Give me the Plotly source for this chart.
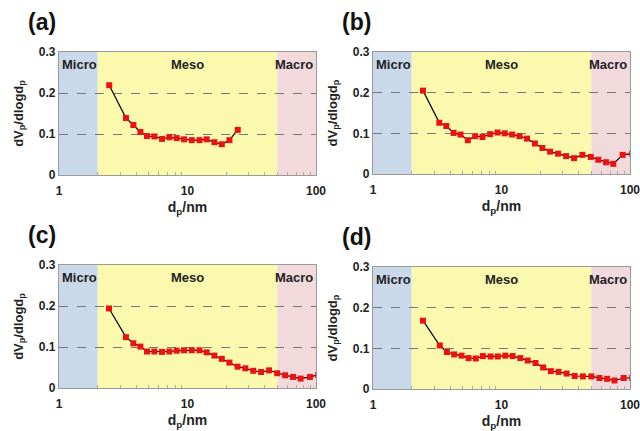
import plotly.graph_objects as go

# ---- data ----
dp_a = [2.46, 3.32, 3.79, 4.30, 4.84, 5.52, 6.33, 7.22, 8.24, 9.39, 10.8, 12.4, 14.1, 16.2, 18.5, 21.2, 24.6]
v_a = [0.219, 0.139, 0.122, 0.105, 0.095, 0.094, 0.088, 0.092, 0.090, 0.087, 0.085, 0.085, 0.087, 0.080, 0.075, 0.085, 0.110]

dp_b = [2.45, 3.28, 3.72, 4.24, 4.80, 5.47, 6.24, 7.11, 8.16, 9.31, 10.6, 12.1, 13.8, 15.8, 18.2, 20.8, 23.9,
        27.6, 31.8, 36.7, 42.6, 49.5, 56.7, 65.1, 74.1, 87.7, 104.0]
v_b = [0.205, 0.126, 0.118, 0.101, 0.097, 0.083, 0.093, 0.091, 0.098, 0.102, 0.100, 0.097, 0.093, 0.087, 0.075,
       0.064, 0.055, 0.050, 0.044, 0.039, 0.047, 0.042, 0.035, 0.029, 0.025, 0.047, 0.050]

dp_c = [2.45, 3.32, 3.79, 4.30, 4.84, 5.52, 6.33, 7.22, 8.24, 9.39, 10.8, 12.4, 14.1, 16.2, 18.5, 21.2, 24.5,
        28.2, 32.5, 37.4, 43.1, 49.9, 57.5, 66.2, 75.9, 89.7, 104.0]
v_c = [0.194, 0.124, 0.109, 0.101, 0.089, 0.089, 0.088, 0.089, 0.091, 0.092, 0.092, 0.092, 0.087, 0.079, 0.071,
       0.062, 0.052, 0.048, 0.042, 0.039, 0.043, 0.036, 0.031, 0.027, 0.023, 0.027, 0.032]

dp_d = [2.45, 3.31, 3.76, 4.28, 4.89, 5.54, 6.31, 7.16, 8.22, 9.36, 10.7, 12.2, 14.0, 16.0, 18.4, 21.1, 24.2,
        27.8, 32.1, 37.1, 43.0, 50.0, 57.9, 66.3, 75.7, 89.3, 104.0]
v_d = [0.168, 0.107, 0.091, 0.085, 0.082, 0.076, 0.075, 0.081, 0.080, 0.080, 0.082, 0.081, 0.076, 0.070, 0.064,
       0.053, 0.044, 0.042, 0.038, 0.032, 0.031, 0.031, 0.027, 0.025, 0.021, 0.027, 0.027]

panel_labels = ["(a)", "(b)", "(c)", "(d)"]
regions = [("Micro", 1, 2), ("Meso", 2, 50), ("Macro", 50, 100)]
region_colors = ["#c9d9ea", "#fbf9ae", "#f1d9dc"]
y_ticks = [0, 0.1, 0.2, 0.3]
y_tick_text = ["<b>0</b>", "<b>0.1</b>", "<b>0.2</b>", "<b>0.3</b>"]
x_ticks = [1, 10, 100]
x_tick_text = ["<b>1</b>", "<b>10</b>", "<b>100</b>"]
x_minor_ticks = [2, 3, 4, 5, 6, 7, 8, 9, 20, 30, 40, 50, 60, 70, 80, 90]

series = [(dp_a, v_a), (dp_b, v_b), (dp_c, v_c), (dp_d, v_d)]

W, H = 640, 431
# plot area boxes in page pixels: (left, right, top, bottom)
boxes = [(59, 316, 52, 175), (373, 630, 52, 174), (59, 316, 265, 388), (373, 630, 267, 389)]

fig = go.Figure()
FONT = "Liberation Sans, Arial, sans-serif"

for i, ((xs, ys), (l, r, t, b)) in enumerate(zip(series, boxes)):
    n = "" if i == 0 else str(i + 1)
    xa, ya = "x" + n, "y" + n
    fig.add_trace(go.Scatter(
        x=xs, y=ys, xaxis=xa, yaxis=ya, mode="lines+markers",
        line=dict(color="black", width=1.2),
        marker=dict(symbol="square", size=6, color="#ee1111", line=dict(width=0)),
        showlegend=False, cliponaxis=True))
    common = dict(showline=True, linecolor="#9a9a9a", linewidth=1.2, mirror=True, zeroline=False,
                  automargin=False)
    fig.update_layout(**{
        ("xaxis" + n): dict(type="log", range=[0, 2], domain=[l / W, r / W], anchor=ya,
                            tickvals=x_ticks, ticktext=x_tick_text, ticks="", showgrid=False,
                            ticklabelstandoff=4, ticklabeloverflow="allow",
                            tickfont=dict(family=FONT, size=12, color="#222"),
                            minor=dict(tickmode="array", tickvals=x_minor_ticks, ticks="inside",
                                       ticklen=3, tickcolor="#aaaaaa", showgrid=False),
                            title=dict(text="<b>d<sub>p</sub>/nm</b>", font=dict(family=FONT, size=14, color="#222"),
                                       standoff=5),
                            **common),
        ("yaxis" + n): dict(range=[0, 0.3], domain=[1 - b / H, 1 - t / H], anchor=xa,
                            tickvals=y_ticks, ticktext=y_tick_text, ticks="",
                            showgrid=True, gridcolor="#777777", griddash="dash", gridwidth=1,
                            tickfont=dict(family=FONT, size=12, color="#222"),
                            title=dict(text="<b>dV<sub>p</sub>/dlogd<sub>p</sub></b>",
                                       font=dict(family=FONT, size=13, color="#222"), standoff=12),
                            **common),
    })
    for (name, x0, x1), col in zip(regions, region_colors):
        fig.add_shape(type="rect", xref=xa, yref=ya, x0=x0, x1=x1, y0=0, y1=0.3,
                      fillcolor=col, line=dict(width=0), layer="below")
    fig.add_annotation(x=0, y=0.3, xref=xa, yref=ya, text="<b>Micro</b>", showarrow=False,
                       xanchor="left", yanchor="top", xshift=1, yshift=-3,
                       font=dict(family=FONT, size=13, color="#222"))
    fig.add_annotation(x=1, y=0.3, xref=xa, yref=ya, text="<b>Meso</b>", showarrow=False,
                       xanchor="center", yanchor="top", yshift=-3,
                       font=dict(family=FONT, size=13, color="#222"))
    fig.add_annotation(x=2, y=0.3, xref=xa, yref=ya, text="<b>Macro</b>", showarrow=False,
                       xanchor="right", yanchor="top", xshift=-1, yshift=-3,
                       font=dict(family=FONT, size=13, color="#222"))
    fig.add_annotation(x=(l - 33) / W, y=1 - (t - 30) / H, xref="paper", yref="paper",
                       text="<b>" + panel_labels[i] + "</b>", showarrow=False,
                       xanchor="left", yanchor="middle",
                       font=dict(family=FONT, size=23, color="#111"))

fig.update_layout(width=W, height=H, margin=dict(l=0, r=0, t=0, b=0),
                  paper_bgcolor="white", plot_bgcolor="white")
fig.write_html("out.html", config={"displayModeBar": False},
               post_script="document.body.style.margin='0';document.body.style.overflow='hidden';")
